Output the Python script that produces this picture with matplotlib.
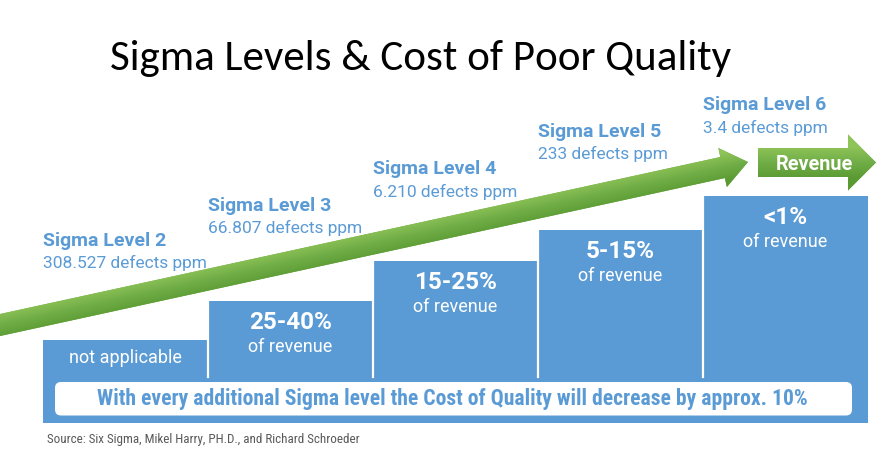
import numpy as np
import matplotlib
matplotlib.use("Agg")
import matplotlib.pyplot as plt
from matplotlib.patches import FancyArrow, FancyBboxPatch
from matplotlib.colors import LinearSegmentedColormap

# --- data -------------------------------------------------------------
levels = ["Sigma Level 2", "Sigma Level 3", "Sigma Level 4", "Sigma Level 5", "Sigma Level 6"]
defects = ["308.527 defects ppm", "66.807 defects ppm", "6.210 defects ppm",
           "233 defects ppm", "3.4 defects ppm"]
cost_pct = ["", "25-40%", "15-25%", "5-15%", "<1%"]
cost_sub = ["not applicable", "of revenue", "of revenue", "of revenue", "of revenue"]
step_height = [83, 122, 162, 193, 227]   # height of each step above the base strip
message = "With every additional Sigma level the Cost of Quality will decrease by approx. 10%"
source = "Source: Six Sigma, Mikel Harry, PH.D., and Richard Schroeder"
title = "Sigma Levels & Cost of Poor Quality"

# --- layout (pixel units, y pointing up) ------------------------------
W, H = 876, 466
base = 43          # bottom of the blue block
strip_top = 89     # where the white separators stop
x0, bar_w = 43, 165
label_y = [220, 255, 291.5, 329, 355.5]

BLUE = "#5b9bd5"
TXT_BLUE = "#5b9bd5"
GREEN_CM = LinearSegmentedColormap.from_list("g", ["#5b9a32", "#70ad47", "#8fc458"])

fig = plt.figure(figsize=(W / 100, H / 100), dpi=100)
ax = fig.add_axes([0, 0, 1, 1])
ax.set_xlim(0, W)
ax.set_ylim(0, H)
ax.axis("off")

lefts = [x0 + i * bar_w for i in range(len(levels))]
ax.bar(lefts, step_height, width=bar_w, bottom=base, align="edge", color=BLUE, linewidth=0, zorder=2)

# white separators between the steps
for i in range(1, len(levels)):
    ax.plot([lefts[i], lefts[i]], [strip_top, base + step_height[i]], color="white", lw=1.6, zorder=3)

# white rounded message box
box = FancyBboxPatch((55, 50.5), 797, 33.5, boxstyle="round,pad=0,rounding_size=6",
                     fc="white", ec="none", zorder=3)
ax.add_patch(box)
ax.text(452.5, 67, message, ha="center", va="center", color=TXT_BLUE, fontsize=15.6,
        family=["Roboto Condensed", "DejaVu Sans"], weight="bold", zorder=4)

# step texts
for i, left in enumerate(lefts):
    cx = left + bar_w / 2
    top = base + step_height[i]
    if cost_pct[i]:
        ax.text(cx, top - 28, cost_pct[i], ha="center", va="baseline", color="white",
                fontsize=17.5, family=["Roboto", "DejaVu Sans"], weight="bold", zorder=4)
        ax.text(cx, top - 51, cost_sub[i], ha="center", va="baseline", color="white",
                fontsize=13, family=["Roboto", "DejaVu Sans"], zorder=4)
    else:
        ax.text(cx, top - 22.7, cost_sub[i], ha="center", va="baseline", color="white",
                fontsize=13, family=["Roboto", "DejaVu Sans"], zorder=4)
    ax.text(left, label_y[i], levels[i], ha="left", va="baseline", color=TXT_BLUE,
            fontsize=14, family=["Roboto", "DejaVu Sans"], weight="bold", zorder=4)
    ax.text(left, label_y[i] - 22, defects[i], ha="left", va="baseline", color=TXT_BLUE,
            fontsize=12.5, family=["Roboto", "DejaVu Sans"], zorder=4)


def gradient_fill(patch, p0, direction, half):
    ax.add_patch(patch)
    xs = np.arange(0, W, 1.0) + 0.5
    ys = np.arange(0, H, 1.0) + 0.5
    X, Y = np.meshgrid(xs, ys)
    u = np.asarray(direction, float)
    u = u / np.hypot(*u)
    n = np.array([-u[1], u[0]])
    d = (X - p0[0]) * n[0] + (Y - p0[1]) * n[1]
    t = np.clip(d / half, -1, 1)
    im = ax.imshow(t, extent=(0, W, 0, H), origin="lower", cmap=GREEN_CM, vmin=-1, vmax=1,
                   interpolation="bilinear", zorder=patch.get_zorder() + 0.1, aspect="auto")
    im.set_clip_path(patch)


# big rising arrow
a0 = (-10, 138.8)
a_d = (758, 165.2)
arrow = FancyArrow(a0[0], a0[1], a_d[0], a_d[1], width=21.5, head_width=40, head_length=26,
                   length_includes_head=True, fc="#70ad47", ec="none", zorder=5)
gradient_fill(arrow, a0, a_d, 14)

# "Revenue" arrow
r0 = (758, 303.5)
rev = FancyArrow(r0[0], r0[1], 118, 0, width=29, head_width=56, head_length=28,
                 length_includes_head=True, fc="#70ad47", ec="none", zorder=5)
gradient_fill(rev, r0, (1, 0), 16)
ax.text(814, 296.5, "Revenue", ha="center", va="baseline", color="white", fontsize=14.3,
        family=["Roboto", "DejaVu Sans"], weight="bold", zorder=7)

# title and source
ax.text(421, 396, title, ha="center", va="baseline", color="black", fontsize=31,
        family=["Carlito", "DejaVu Sans"])
ax.text(47, 22.7, source, ha="left", va="baseline", color="#595959", fontsize=9.4,
        family=["Roboto Condensed", "DejaVu Sans"])

fig.savefig("out.png", dpi=100)
